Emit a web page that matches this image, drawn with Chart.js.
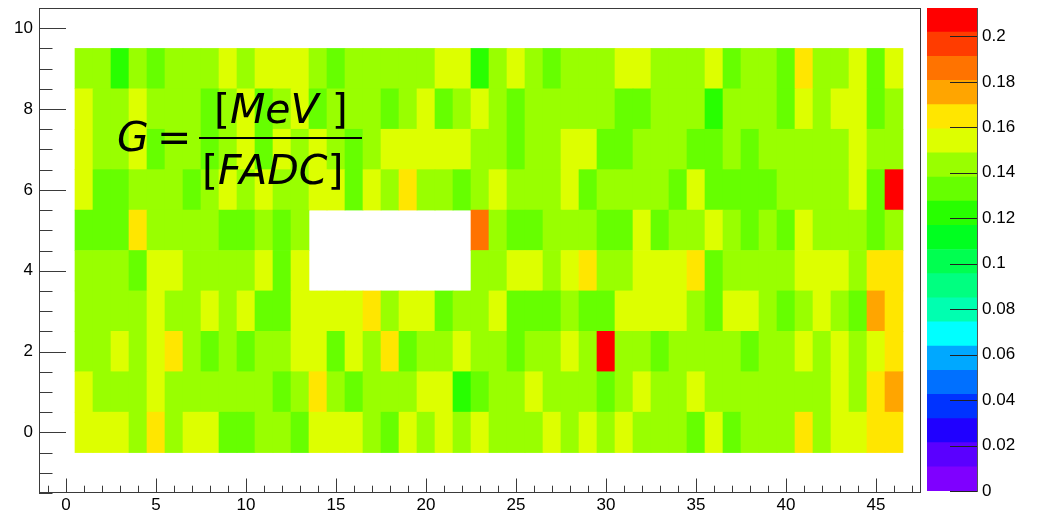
<!DOCTYPE html>
<html>
<head>
<meta charset="utf-8">
<script src="https://cdn.jsdelivr.net/npm/chart.js@4.4.1/dist/chart.umd.min.js"></script>
<style>
  html, body { margin: 0; padding: 0; background: #fff; }
  #wrap { position: relative; width: 1039px; height: 511px; }
  #gain-chart { position: absolute; left: 0; top: 0; }
  #palette-chart { position: absolute; left: 920px; top: 0; }
</style>
</head>
<body>
<div id="wrap">
  <canvas id="gain-chart" width="1039" height="511"></canvas>
  <canvas id="palette-chart" width="119" height="511"></canvas>
</div>
<script>
// channel number (x) and row (y) of each cell
const columns = [1, 2, 3, 4, 5, 6, 7, 8, 9, 10, 11, 12, 13, 14, 15, 16, 17, 18, 19, 20, 21, 22, 23,
  24, 25, 26, 27, 28, 29, 30, 31, 32, 33, 34, 35, 36, 37, 38, 39, 40, 41, 42, 43, 44, 45, 46];
const rowIndex = [0, 1, 2, 3, 4, 5, 6, 7, 8, 9];

// gain per cell, MeV / FADC (null = no channel)
const row0 = [.154,.154,.154,.143,.165,.143,.154,.154,.133,.133,.143,.143,.133,.154,.154,
  .154,.143,.133,.154,.143,.154,.143,.154,.143,.143,.143,.154,.143,.154,.143,
  .154,.143,.143,.143,.133,.154,.133,.143,.143,.143,.165,.143,.154,.154,.165,.165];
const row1 = [.154,.143,.143,.143,.154,.143,.143,.143,.143,.143,.143,.133,.143,.165,.143,
  .133,.143,.143,.143,.154,.154,.122,.133,.143,.143,.154,.143,.143,.143,.133,
  .143,.154,.143,.143,.154,.143,.143,.143,.143,.143,.143,.143,.154,.143,.165,.176];
const row2 = [.143,.143,.154,.143,.154,.165,.143,.133,.143,.133,.143,.143,.154,.154,.133,
  .154,.143,.165,.133,.143,.143,.154,.143,.143,.133,.143,.143,.154,.143,.208,
  .143,.143,.133,.143,.143,.143,.143,.133,.143,.143,.154,.143,.154,.143,.154,.165];
const row3 = [.143,.143,.143,.143,.154,.143,.143,.154,.143,.154,.133,.133,.154,.154,.154,
  .154,.165,.143,.154,.154,.133,.143,.143,.154,.133,.133,.133,.143,.133,.133,
  .154,.154,.154,.154,.143,.133,.154,.154,.143,.133,.143,.154,.143,.133,.176,.165];
const row4 = [.143,.143,.143,.133,.154,.154,.143,.143,.143,.143,.154,.133,.154,
  null,null,null,null,null,null,null,null,null,
  .143,.143,.154,.154,.143,.154,.165,.143,
  .143,.154,.154,.154,.165,.133,.143,.143,.143,.143,.154,.154,.154,.143,.165,.165];
const row5 = [.133,.133,.133,.165,.143,.143,.143,.143,.133,.133,.143,.133,.143,
  null,null,null,null,null,null,null,null,null,
  .186,.143,.133,.133,.143,.143,.143,.133,
  .133,.154,.133,.143,.143,.154,.143,.133,.143,.133,.154,.143,.143,.143,.133,.143];
const row6 = [.154,.133,.133,.143,.143,.143,.133,.143,.154,.143,.154,.143,.143,.154,.154,
  .133,.154,.143,.165,.143,.143,.133,.143,.154,.143,.143,.143,.154,.133,.143,
  .143,.143,.143,.133,.154,.133,.133,.133,.133,.143,.143,.143,.143,.154,.133,.208];
const row7 = [.154,.143,.143,.154,.133,.143,.143,.133,.143,.154,.133,.154,.143,.154,.143,
  .133,.143,.154,.154,.154,.154,.154,.143,.143,.133,.143,.143,.154,.154,.133,
  .133,.143,.143,.143,.133,.133,.143,.133,.143,.143,.143,.143,.143,.154,.143,.143];
const row8 = [.154,.143,.143,.154,.143,.143,.143,.133,.143,.154,.133,.143,.154,.133,.143,
  .143,.143,.133,.143,.154,.133,.143,.154,.143,.133,.143,.143,.143,.143,.143,
  .133,.133,.143,.143,.143,.122,.143,.143,.143,.133,.154,.143,.154,.154,.133,.143];
const row9 = [.143,.143,.122,.143,.133,.143,.143,.143,.154,.143,.154,.154,.154,.143,.133,
  .143,.143,.143,.143,.143,.154,.154,.122,.143,.154,.143,.133,.143,.143,.143,
  .154,.154,.143,.143,.143,.154,.133,.143,.143,.133,.165,.143,.143,.154,.133,.154];
const gainRows = [row0, row1, row2, row3, row4, row5, row6, row7, row8, row9];

const xTicks = [0, 5, 10, 15, 20, 25, 30, 35, 40, 45];
const yTicks = [0, 2, 4, 6, 8, 10];
const zTicks = [0, 0.02, 0.04, 0.06, 0.08, 0.1, 0.12, 0.14, 0.16, 0.18, 0.2];
const zMax = 0.2125;

// 20 contour colours, bottom to top
const paletteColors = ['#7f00ff', '#5a00ff', '#2000ff', '#0033ff', '#0070ff', '#00a8ff', '#00ffff',
  '#00ffb0', '#00ff80', '#00ff50', '#00ff20', '#28ff00', '#66ff00', '#99ff00', '#ddff00',
  '#ffe600', '#ffa500', '#ff7300', '#ff3c00', '#ff0000'];
const band = zMax / paletteColors.length;

const FONT = "'Liberation Sans', Arial, sans-serif";
const LATEX = "'DejaVu Sans', sans-serif";

const cellColor = (v) => {
  if (v == null) return 'rgba(0,0,0,0)';
  const k = Math.max(0, Math.min(paletteColors.length - 1, Math.floor(v / band)));
  return paletteColors[k];
};

const noPad = s => { s.paddingTop = 0; s.paddingBottom = 0; s.paddingLeft = 0; s.paddingRight = 0; };

// ROOT style frame with ticks pointing inwards
const rootFrame = {
  id: 'rootFrame',
  afterDatasetsDraw(chart) {
    const { ctx, chartArea: a, scales: { x, y } } = chart;
    ctx.save();
    ctx.strokeStyle = '#3a3a3a';
    ctx.lineWidth = 1;
    ctx.strokeRect(Math.round(a.left) + 0.5, Math.round(a.top) + 0.5,
      Math.round(a.width) - 1, Math.round(a.height) - 1);

    ctx.beginPath();
    for (let v = -1.5; v <= 10.5 + 1e-9; v += 0.5) {
      const py = Math.round(y.getPixelForValue(v)) + 0.5;
      const len = yTicks.includes(v) ? 27 : 13.5;
      ctx.moveTo(a.left, py);
      ctx.lineTo(a.left + len, py);
    }
    for (let v = -1; v <= 47; v += 1) {
      const px = Math.round(x.getPixelForValue(v)) + 0.5;
      const len = xTicks.includes(v) ? 14.5 : 7.3;
      ctx.moveTo(px, a.bottom);
      ctx.lineTo(px, a.bottom - len);
    }
    ctx.stroke();
    ctx.restore();
  },
  afterDraw(chart) {
    const { ctx } = chart;
    ctx.save();
    ctx.fillStyle = '#000';
    ctx.textBaseline = 'alphabetic';

    ctx.font = 'oblique 41px ' + LATEX;
    ctx.fillText('G', 117, 151);
    ctx.font = '41px ' + LATEX;
    ctx.fillText('=', 157, 151);

    ctx.fillRect(199, 137, 163, 2);

    const piece = (parts, startX, baseY) => {
      let cx = startX;
      parts.forEach(([txt, obl]) => {
        ctx.font = (obl ? 'oblique ' : '') + '41px ' + LATEX;
        ctx.fillText(txt, cx, baseY);
        cx += ctx.measureText(txt).width;
      });
    };
    piece([['[', false], ['MeV', true], [' ]', false]], 214, 123);
    piece([['[', false], ['FADC', true], [']', false]], 202, 184);
    ctx.restore();
  }
};

const datasets = gainRows.map((vals, r) => ({
  data: columns
    .map((c, i) => (vals[i] == null ? null : { x: c, y: [rowIndex[r] - 0.5, rowIndex[r] + 0.5], v: vals[i] }))
    .filter(p => p),
  backgroundColor: ctx => cellColor(ctx.raw && ctx.raw.v),
  borderWidth: 0,
  grouped: false,
  barPercentage: 1,
  categoryPercentage: 1,
}));

new Chart(document.getElementById('gain-chart'), {
  type: 'bar',
  data: { datasets },
  options: {
    responsive: false,
    animation: false,
    layout: { padding: { left: 0, right: 118, top: 8, bottom: 0 } },
    plugins: { legend: { display: false }, tooltip: { enabled: false } },
    scales: {
      x: {
        type: 'linear', min: -1.5, max: 47.5, offset: false,
        grid: { display: false, drawTicks: false }, border: { display: false },
        afterBuildTicks: s => { s.ticks = xTicks.map(v => ({ value: v })); },
        afterFit: s => { s.height = 18; noPad(s); },
        ticks: { color: '#000', font: { family: FONT, size: 17 }, padding: 2, maxRotation: 0, autoSkip: false,
          callback: v => String(v) },
      },
      y: {
        type: 'linear', min: -1.5, max: 10.5,
        grid: { display: false, drawTicks: false }, border: { display: false },
        afterBuildTicks: s => { s.ticks = yTicks.map(v => ({ value: v })); },
        afterFit: s => { s.width = 39; noPad(s); },
        ticks: { color: '#000', font: { family: FONT, size: 17 }, padding: 6, callback: v => String(v) },
      },
    },
  },
  plugins: [rootFrame],
});

// colour palette on the right
const paletteTicks = {
  id: 'paletteTicks',
  afterDraw(chart) {
    const { ctx, chartArea: a, scales: { y } } = chart;
    ctx.save();
    ctx.strokeStyle = '#222';
    ctx.lineWidth = 1;
    ctx.beginPath();
    zTicks.forEach(v => {
      const py = Math.round(y.getPixelForValue(v)) + 0.5;
      ctx.moveTo(a.right, py);
      ctx.lineTo(a.right - 27, py);
    });
    ctx.stroke();
    ctx.restore();
  }
};

new Chart(document.getElementById('palette-chart'), {
  type: 'bar',
  data: {
    labels: ['z'],
    datasets: paletteColors.map((col, k) => ({
      data: [[k * band, (k + 1) * band]],
      backgroundColor: col,
      borderWidth: 0,
      grouped: false,
      barPercentage: 1,
      categoryPercentage: 1,
    })),
  },
  options: {
    responsive: false,
    animation: false,
    layout: { padding: { left: 7, right: 0, top: 8, bottom: 20 } },
    plugins: { legend: { display: false }, tooltip: { enabled: false } },
    scales: {
      x: { display: false },
      y: {
        position: 'right', min: 0, max: zMax,
        grid: { display: false, drawTicks: false },
        border: { display: true, color: '#555' },
        afterBuildTicks: s => { s.ticks = zTicks.map(v => ({ value: v })); },
        afterFit: s => { s.width = 62; noPad(s); },
        ticks: { color: '#000', font: { family: FONT, size: 17 }, padding: 5, callback: v => String(v) },
      },
    },
  },
  plugins: [paletteTicks],
});
</script>
</body>
</html>
